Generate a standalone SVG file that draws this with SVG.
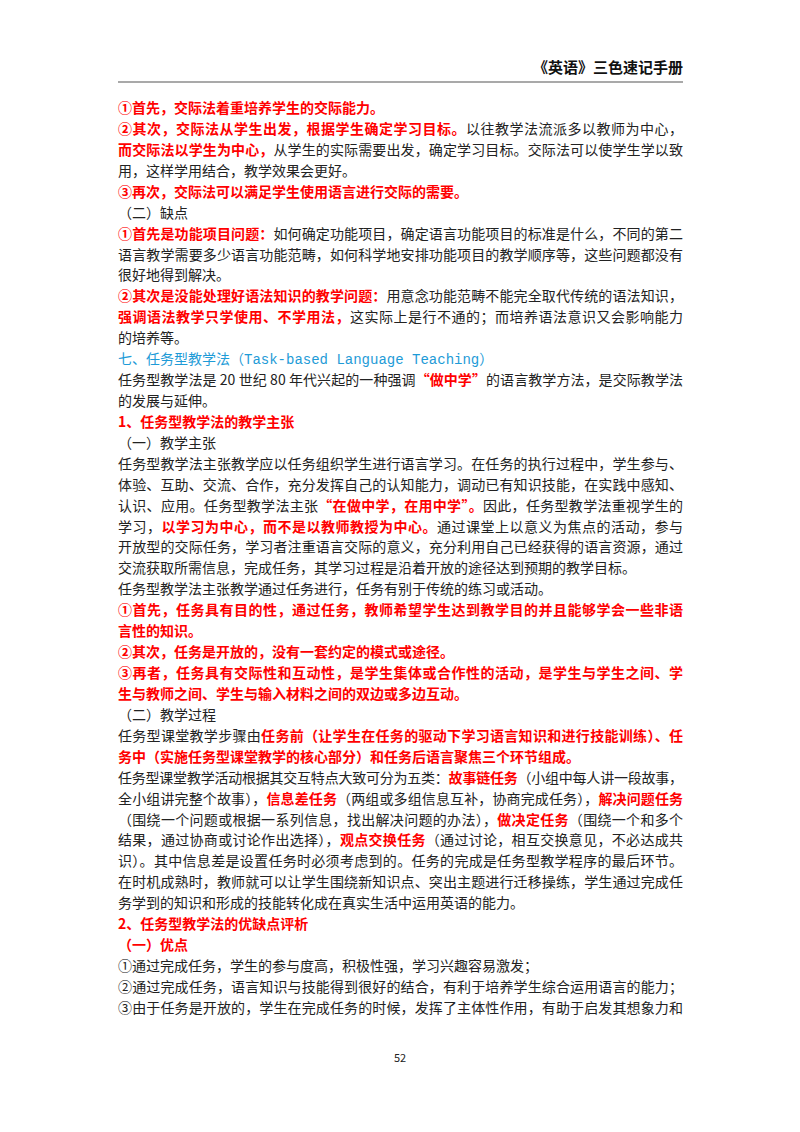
<svg xmlns="http://www.w3.org/2000/svg" width="800" height="1132" viewBox="0 0 800 1132">
<style>
text{font-family:"Noto Sans CJK SC","Liberation Sans",sans-serif;font-size:14px;fill:#222}
.r{fill:#f00;font-weight:bold}
.b{fill:#1e9bd7}
.m{font-family:"Liberation Mono","Noto Sans CJK SC",monospace}
.h{font-weight:bold;font-size:15px;fill:#111}
</style>
<rect width="800" height="1132" fill="#fff"/>
<g id="header">
<text class="h" x="683" y="73" text-anchor="end">《英语》三色速记手册</text>
<line x1="118" y1="82" x2="683" y2="82" stroke="#555" stroke-width="1.2"/>
</g>
<g id="body">
<text x="118" y="113"><tspan class="r">①首先，交际法着重培养学生的交际能力。</tspan></text>
<text x="118" y="133.9" textLength="565" lengthAdjust="spacing"><tspan class="r">②其次，交际法从学生出发，根据学生确定学习目标。</tspan>以往教学法流派多以教师为中心，</text>
<text x="118" y="154.9" textLength="565" lengthAdjust="spacing"><tspan class="r">而交际法以学生为中心，</tspan>从学生的实际需要出发，确定学习目标。交际法可以使学生学以致</text>
<text x="118" y="175.8">用，这样学用结合，教学效果会更好。</text>
<text x="118" y="196.7"><tspan class="r">③再次，交际法可以满足学生使用语言进行交际的需要。</tspan></text>
<text x="118" y="217.6">（二）缺点</text>
<text x="118" y="238.6" textLength="565" lengthAdjust="spacing"><tspan class="r">①首先是功能项目问题：</tspan>如何确定功能项目，确定语言功能项目的标准是什么，不同的第二</text>
<text x="118" y="259.5" textLength="565" lengthAdjust="spacing">语言教学需要多少语言功能范畴，如何科学地安排功能项目的教学顺序等，这些问题都没有</text>
<text x="118" y="280.4">很好地得到解决。</text>
<text x="118" y="301.3" textLength="565" lengthAdjust="spacing"><tspan class="r">②其次是没能处理好语法知识的教学问题：</tspan>用意念功能范畴不能完全取代传统的语法知识，</text>
<text x="118" y="322.3" textLength="565" lengthAdjust="spacing"><tspan class="r">强调语法教学只学使用、不学用法，</tspan>这实际上是行不通的；而培养语法意识又会影响能力</text>
<text x="118" y="343.2">的培养等。</text>
<text x="118" y="364.1" class="b">七、任务型教学法（<tspan class="m">Task-based Language Teaching</tspan>）</text>
<text x="118" y="385" textLength="565" lengthAdjust="spacing">任务型教学法是 20 世纪 80 年代兴起的一种强调<tspan class="r">“做中学”</tspan>的语言教学方法，是交际教学法</text>
<text x="118" y="406">的发展与延伸。</text>
<text x="118" y="426.9"><tspan class="r">1、任务型教学法的教学主张</tspan></text>
<text x="118" y="447.8">（一）教学主张</text>
<text x="118" y="468.7" textLength="565" lengthAdjust="spacing">任务型教学法主张教学应以任务组织学生进行语言学习。在任务的执行过程中，学生参与、</text>
<text x="118" y="489.7" textLength="565" lengthAdjust="spacing">体验、互助、交流、合作，充分发挥自己的认知能力，调动已有知识技能，在实践中感知、</text>
<text x="118" y="510.6" textLength="565" lengthAdjust="spacing">认识、应用。任务型教学法主张<tspan class="r">“在做中学，在用中学”。</tspan>因此，任务型教学法重视学生的</text>
<text x="118" y="531.5" textLength="565" lengthAdjust="spacing">学习，<tspan class="r">以学习为中心，而不是以教师教授为中心。</tspan>通过课堂上以意义为焦点的活动，参与</text>
<text x="118" y="552.4" textLength="565" lengthAdjust="spacing">开放型的交际任务，学习者注重语言交际的意义，充分利用自己已经获得的语言资源，通过</text>
<text x="118" y="573.4">交流获取所需信息，完成任务，其学习过程是沿着开放的途径达到预期的教学目标。</text>
<text x="118" y="594.3">任务型教学法主张教学通过任务进行，任务有别于传统的练习或活动。</text>
<text x="118" y="615.2" textLength="565" lengthAdjust="spacing"><tspan class="r">①首先，任务具有目的性，通过任务，教师希望学生达到教学目的并且能够学会一些非语</tspan></text>
<text x="118" y="636.1"><tspan class="r">言性的知识。</tspan></text>
<text x="118" y="657.1"><tspan class="r">②其次，任务是开放的，没有一套约定的模式或途径。</tspan></text>
<text x="118" y="678" textLength="565" lengthAdjust="spacing"><tspan class="r">③再者，任务具有交际性和互动性，是学生集体或合作性的活动，是学生与学生之间、学</tspan></text>
<text x="118" y="698.9"><tspan class="r">生与教师之间、学生与输入材料之间的双边或多边互动。</tspan></text>
<text x="118" y="719.8">（二）教学过程</text>
<text x="118" y="740.8" textLength="565" lengthAdjust="spacing">任务型课堂教学步骤由<tspan class="r">任务前（让学生在任务的驱动下学习语言知识和进行技能训练）、任</tspan></text>
<text x="118" y="761.7"><tspan class="r">务中（实施任务型课堂教学的核心部分）和任务后语言聚焦三个环节组成。</tspan></text>
<text x="118" y="782.6" textLength="565" lengthAdjust="spacing">任务型课堂教学活动根据其交互特点大致可分为五类：<tspan class="r">故事链任务</tspan>（小组中每人讲一段故事，</text>
<text x="118" y="803.5" textLength="565" lengthAdjust="spacing">全小组讲完整个故事），<tspan class="r">信息差任务</tspan>（两组或多组信息互补，协商完成任务），<tspan class="r">解决问题任务</tspan></text>
<text x="118" y="824.5" textLength="565" lengthAdjust="spacing">（围绕一个问题或根据一系列信息，找出解决问题的办法），<tspan class="r">做决定任务</tspan>（围绕一个和多个</text>
<text x="118" y="845.4" textLength="565" lengthAdjust="spacing">结果，通过协商或讨论作出选择），<tspan class="r">观点交换任务</tspan>（通过讨论，相互交换意见，不必达成共</text>
<text x="118" y="866.3" textLength="565" lengthAdjust="spacing">识）。其中信息差是设置任务时必须考虑到的。任务的完成是任务型教学程序的最后环节。</text>
<text x="118" y="887.2" textLength="565" lengthAdjust="spacing">在时机成熟时，教师就可以让学生围绕新知识点、突出主题进行迁移操练，学生通过完成任</text>
<text x="118" y="908.2">务学到的知识和形成的技能转化成在真实生活中运用英语的能力。</text>
<text x="118" y="929.1"><tspan class="r">2、任务型教学法的优缺点评析</tspan></text>
<text x="118" y="950"><tspan class="r">（一）优点</tspan></text>
<text x="118" y="970.9">①通过完成任务，学生的参与度高，积极性强，学习兴趣容易激发；</text>
<text x="118" y="991.9" textLength="565" lengthAdjust="spacing">②通过完成任务，语言知识与技能得到很好的结合，有利于培养学生综合运用语言的能力；</text>
<text x="118" y="1012.8" textLength="565" lengthAdjust="spacing">③由于任务是开放的，学生在完成任务的时候，发挥了主体性作用，有助于启发其想象力和</text>
</g>
<g id="footer">
<text x="400" y="1062" text-anchor="middle" style="font-size:11px">52</text>
</g>
</svg>
